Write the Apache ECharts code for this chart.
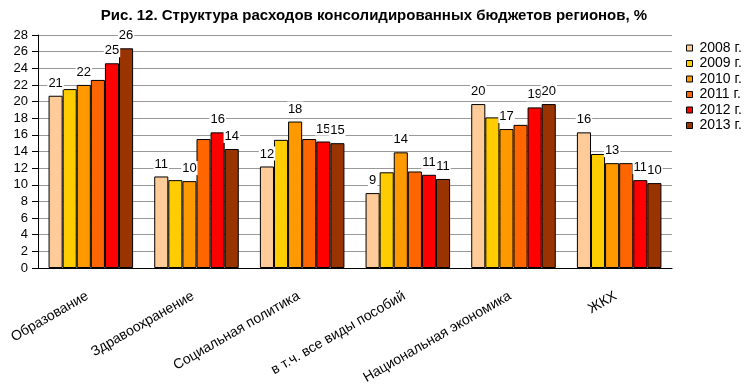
<!DOCTYPE html>
<html><head><meta charset="utf-8">
<script src="https://cdn.jsdelivr.net/npm/echarts@6/dist/echarts.min.js"></script>
<style>html,body{margin:0;padding:0;background:#fff}#c{width:748px;height:391px}</style>
</head><body><div id="c"></div>
<script>
var categories = ["Образование", "Здравоохранение", "Социальная политика", "в т.ч. все виды пособий", "Национальная экономика", "ЖКХ"];
var years = ["2008 г.", "2009 г.", "2010 г.", "2011 г.", "2012 г.", "2013 г."];
var v2008 = [20.7, 11.0, 12.2, 9.0, 19.7, 16.3];
var v2009 = [21.5, 10.56, 15.4, 11.5, 18.1, 13.7];
var v2010 = [22.0, 10.44, 17.6, 13.9, 16.7, 12.6];
var v2011 = [22.6, 15.5, 15.5, 11.6, 17.2, 12.6];
var v2012 = [24.6, 16.3, 15.2, 11.2, 19.3, 10.56];
var v2013 = [26.4, 14.3, 15.0, 10.7, 19.7, 10.2];
var yTicks = [0, 28, 2];
var colors = ["#FFCC99", "#FFCC00", "#FF9900", "#FF6600", "#FF0000", "#993300"];
var showLabel = [true, false, true, false, true, true];
var allValues = [v2008, v2009, v2010, v2011, v2012, v2013];

var font = "Liberation Sans, Arial, sans-serif";
var series = allValues.map(function (vals, i) {
  return {
    name: years[i], type: 'bar', data: vals,
    barGap: '0%', barCategoryGap: '20%',
    itemStyle: { color: colors[i], borderColor: '#000', borderWidth: 1 },
    label: {
      show: showLabel[i], position: 'top', distance: 6,
      formatter: function (p) { return Math.round(p.value); },
      fontFamily: font, fontSize: 13, color: '#000',
      backgroundColor: '#fff', padding: [1, 1, 0, 1]
    }
  };
});

var chart = echarts.init(document.getElementById('c'));
chart.setOption({
  animation: false,
  title: { text: 'Рис. 12. Структура расходов консолидированных бюджетов регионов, %', left: 'center', top: 3,
    textStyle: { fontFamily: font, fontSize: 15, fontWeight: 'bold', color: '#000' } },
  legend: { orient: 'vertical', left: 681, top: 36, itemWidth: 6, itemHeight: 6, itemGap: 1.5,
    icon: 'rect', textStyle: { fontFamily: font, fontSize: 14, lineHeight: 14, color: '#000', padding: [0, 0, 0, 2] },
    itemStyle: { borderColor: '#000', borderWidth: 1 } },
  grid: { left: 38, right: 76, top: 35, bottom: 123, containLabel: false },
  xAxis: { type: 'category', data: categories,
    axisLine: { lineStyle: { color: '#000', width: 1 } }, axisTick: { show: false },
    axisLabel: { rotate: 30, interval: 0, fontFamily: font, fontSize: 14, color: '#000', margin: 25, padding: [0, 4, 0, 0] } },
  yAxis: { type: 'value', min: yTicks[0], max: yTicks[1], interval: yTicks[2],
    axisLine: { show: true, lineStyle: { color: '#000' } },
    axisTick: { show: true, length: 6, lineStyle: { color: '#000' } },
    splitLine: { lineStyle: { color: '#999', width: 1 } },
    axisLabel: { fontFamily: font, fontSize: 13, color: '#000', margin: 10 } },
  series: series
});
</script></body></html>
